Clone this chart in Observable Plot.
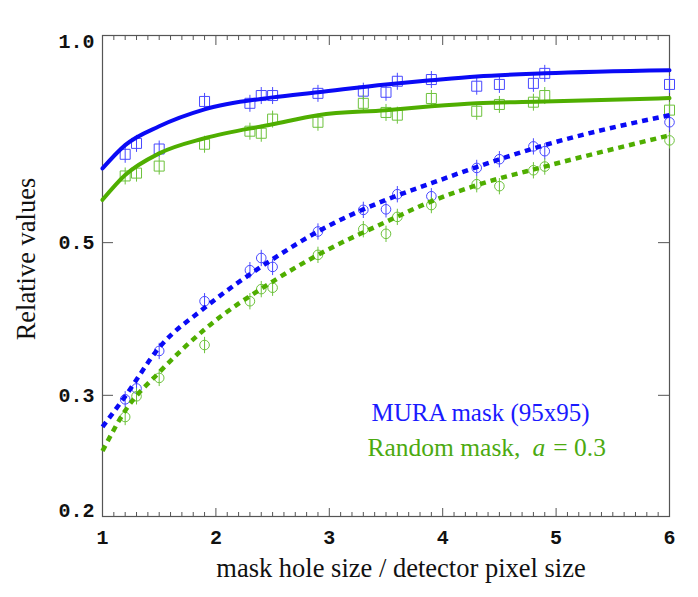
<!DOCTYPE html>
<html><head><meta charset="utf-8">
<script src="https://cdn.jsdelivr.net/npm/d3@7"></script>
<script src="https://cdn.jsdelivr.net/npm/@observablehq/plot@0.6"></script>
<style>body{margin:0;background:#fff} svg{display:block}</style>
</head><body><div id="chart"></div>
<script>
// measured points (x = mask hole size / detector pixel size)
const sampleX = [1.2,1.3,1.5,1.9,2.3,2.4,2.5,2.9,3.3,3.5,3.6,3.9,4.3,4.5,4.8,4.9,6.0];
const muraSquares   = [0.672,0.697,0.684,0.802,0.797,0.818,0.818,0.824,0.830,0.827,0.858,0.863,0.844,0.849,0.852,0.881,0.849];
const randomSquares = [0.625,0.631,0.646,0.695,0.726,0.721,0.756,0.748,0.797,0.773,0.766,0.810,0.776,0.794,0.800,0.818,0.779];
const muraCircles   = [0.296,0.307,0.348,0.411,0.456,0.475,0.461,0.519,0.558,0.559,0.588,0.584,0.642,0.661,0.690,0.679,0.748];
const randomCircles = [0.279,0.299,0.318,0.355,0.411,0.428,0.430,0.480,0.523,0.515,0.545,0.567,0.608,0.604,0.637,0.645,0.704];

// fitted curves
const fitX = [1,1.2,1.5,1.9,2.5,2.9,3.5,3.9,4.3,4.9,6];
const muraFitSolid   = [0.641,0.693,0.738,0.781,0.813,0.827,0.849,0.861,0.872,0.881,0.890];
const randomFitSolid = [0.577,0.627,0.674,0.709,0.743,0.766,0.779,0.789,0.797,0.802,0.811];
const muraFitDotted  = [0.270,0.299,0.352,0.402,0.473,0.519,0.577,0.610,0.644,0.693,0.766];
const randomFitDotted= [0.249,0.285,0.324,0.374,0.439,0.480,0.536,0.574,0.606,0.645,0.716];

// axis ticks
const xMajor = [1,2,3,4,5,6];
const xMinor = d3.range(11,60).map(d => d/10).filter(d => Math.abs(d - Math.round(d)) > 1e-9);
const yTickValues = [1.0, 0.5, 0.3, 0.2];
const yTickLabels = ["1.0","0.5","0.3","0.2"];

const legendLabels = ["MURA mask (95x95)", "Random mask, a = 0.3"];

const W = 698, H = 597, mL = 102, mR = 29, mT = 35, mB = 81;
const plotW = W - mL - mR, plotH = H - mT - mB;

const blueLine = "#0a0af5", blueMark = "#4848ff";
const greenLine = "#4fae00", greenMark = "#6dc23c";
const axisCol = "#555";

const pts = (ys) => sampleX.map((x,i) => ({x, y: ys[i]}));
const fit = (ys) => fitX.map((x,i) => ({x, y: ys[i]}));

const squareBar = {draw(ctx, size){ const r = Math.sqrt(size/Math.PI);
  ctx.moveTo(-r,-r); ctx.lineTo(r,-r); ctx.lineTo(r,r); ctx.lineTo(-r,r); ctx.closePath();
  ctx.moveTo(0,-r*1.7); ctx.lineTo(0,r*1.7); }};
const circleBar = {draw(ctx, size){ const r = Math.sqrt(size/Math.PI);
  ctx.moveTo(r,0); ctx.arc(0,0,r,0,2*Math.PI);
  ctx.moveTo(0,-r*1.7); ctx.lineTo(0,r*1.7); }};

const mono = {fontFamily: "Liberation Mono", fontWeight: "bold", fontSize: 20, fill: "#111"};
const serifTitle = {fontFamily: "Liberation Serif", fontSize: 26.5, fill: "#111"};
const serifLegend = {fontFamily: "Liberation Serif", fontSize: 25};
const yt = yTickValues.map((v,i) => ({v, label: yTickLabels[i]}));

const chart = Plot.plot({
  width: W, height: H,
  marginLeft: mL, marginRight: mR, marginTop: mT, marginBottom: mB,
  x: {domain: [1,6], axis: null},
  y: {type: "log", domain: [0.2, 1.0], axis: null},
  style: {background: "white"},
  marks: [
    Plot.frame({stroke: axisCol, strokeWidth: 1.2}),
    // bottom ticks
    Plot.tickX(xMajor, {x: d => d, insetTop: plotH - 8, stroke: axisCol}),
    Plot.tickX(xMinor, {x: d => d, insetTop: plotH - 4, stroke: axisCol}),
    // top ticks
    Plot.tickX(xMajor, {x: d => d, insetBottom: plotH - 10, stroke: axisCol}),
    Plot.tickX(xMinor, {x: d => d, insetBottom: plotH - 5, stroke: axisCol}),
    // left & right ticks
    Plot.tickY(yTickValues, {y: d => d, insetRight: plotW - 11, stroke: axisCol}),
    Plot.tickY(yTickValues, {y: d => d, insetLeft: plotW - 11, stroke: axisCol}),
    // tick labels
    Plot.text(xMajor, {x: d => d, text: d => String(d), frameAnchor: "bottom", lineAnchor: "middle", dy: 21, ...mono}),
    Plot.text(yt.slice(1,3), {y: "v", text: "label", frameAnchor: "left", textAnchor: "end", dx: -8, ...mono}),
    Plot.text(yt.slice(0,1), {y: "v", text: "label", frameAnchor: "left", textAnchor: "end", dx: -8, dy: 6, ...mono}),
    Plot.text(yt.slice(3), {y: "v", text: "label", frameAnchor: "left", textAnchor: "end", dx: -8, dy: -6, ...mono}),
    // axis titles
    Plot.text(["Relative values"], {frameAnchor: "left", textAnchor: "middle", lineAnchor: "middle", dx: -76, dy: -17, rotate: -90, ...serifTitle}),
    Plot.text(["mask hole size / detector pixel size"], {frameAnchor: "bottom", lineAnchor: "middle", dy: 52, dx: 15, ...serifTitle}),
    // legend
    Plot.text([legendLabels[0]], {frameAnchor: "bottom-left", textAnchor: "start", lineAnchor: "middle", dx: 269, dy: -104, fill: "#1a1aff", ...serifLegend}),
    Plot.text([legendLabels[1]], {frameAnchor: "bottom-left", textAnchor: "start", lineAnchor: "middle", dx: 265, dy: -69, fill: "#4caa10", ...serifLegend, fontSize: 25.5}),
    // markers
    Plot.dot(pts(muraSquares), {x: "x", y: "y", symbol: squareBar, r: 5, stroke: blueMark, fill: "none", strokeWidth: 1}),
    Plot.dot(pts(randomSquares), {x: "x", y: "y", symbol: squareBar, r: 5, stroke: greenMark, fill: "none", strokeWidth: 1}),
    Plot.dot(pts(muraCircles), {x: "x", y: "y", symbol: circleBar, r: 4.8, stroke: blueMark, fill: "none", strokeWidth: 1}),
    Plot.dot(pts(randomCircles), {x: "x", y: "y", symbol: circleBar, r: 4.8, stroke: greenMark, fill: "none", strokeWidth: 1}),
    // fits
    Plot.line(fit(randomFitSolid), {x: "x", y: "y", curve: "monotone-x", stroke: greenLine, strokeWidth: 4}),
    Plot.line(fit(muraFitSolid), {x: "x", y: "y", curve: "monotone-x", stroke: blueLine, strokeWidth: 4}),
    Plot.line(fit(randomFitDotted), {x: "x", y: "y", curve: "monotone-x", stroke: greenLine, strokeWidth: 4.5, strokeDasharray: "6,5", strokeLinecap: "butt"}),
    Plot.line(fit(muraFitDotted), {x: "x", y: "y", curve: "monotone-x", stroke: blueLine, strokeWidth: 4.5, strokeDasharray: "6,5", strokeLinecap: "butt"})
  ]
});
document.getElementById("chart").appendChild(chart);

// italic "a" in the second legend entry
chart.querySelectorAll("text").forEach(t => {
  if (t.textContent === legendLabels[1]) {
    const host = t.querySelector("tspan") || t;
    host.textContent = "";
    const parts = [["Random mask,", null, 0], ["a", "italic", 12], ["= 0.3", null, 8]];
    for (const [s, st, dx] of parts) {
      const ts = document.createElementNS("http://www.w3.org/2000/svg", "tspan");
      ts.textContent = s;
      if (st) ts.setAttribute("font-style", st);
      if (dx) ts.setAttribute("dx", dx);
      host.appendChild(ts);
    }
  }
});
</script>
</body></html>
